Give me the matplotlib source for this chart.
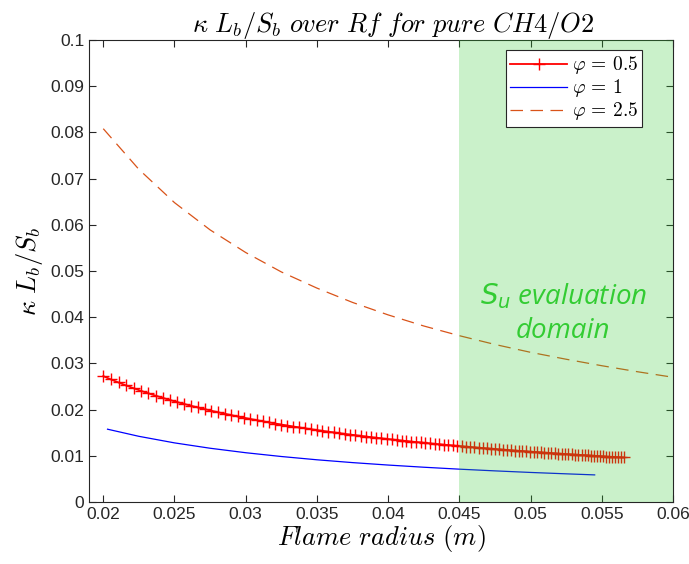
import matplotlib
matplotlib.use("Agg")
import matplotlib.pyplot as plt

plt.rcParams['mathtext.fontset'] = 'cm'
plt.rcParams['font.family'] = ['Liberation Sans', 'DejaVu Sans']

# phi = 0.5 (markers)
r_05 = [0.02000, 0.02054, 0.02107, 0.02160, 0.02213, 0.02265, 0.02316, 0.02367, 0.02418, 0.02468,
        0.02518, 0.02567, 0.02616, 0.02664, 0.02712, 0.02759, 0.02806, 0.02852, 0.02898, 0.02944,
        0.02989, 0.03033, 0.03078, 0.03122, 0.03165, 0.03208, 0.03251, 0.03293, 0.03335, 0.03376,
        0.03417, 0.03458, 0.03498, 0.03538, 0.03578, 0.03617, 0.03656, 0.03694, 0.03732, 0.03770,
        0.03807, 0.03844, 0.03881, 0.03917, 0.03953, 0.03989, 0.04024, 0.04059, 0.04094, 0.04128,
        0.04162, 0.04196, 0.04229, 0.04262, 0.04295, 0.04328, 0.04360, 0.04391, 0.04423, 0.04454,
        0.04485, 0.04516, 0.04546, 0.04576, 0.04606, 0.04635, 0.04665, 0.04694, 0.04722, 0.04751,
        0.04779, 0.04807, 0.04834, 0.04862, 0.04889, 0.04916, 0.04942, 0.04969, 0.04995, 0.05021,
        0.05046, 0.05072, 0.05097, 0.05122, 0.05146, 0.05171, 0.05195, 0.05219, 0.05243, 0.05266,
        0.05289, 0.05313, 0.05335, 0.05358, 0.05381, 0.05403, 0.05425, 0.05447, 0.05468, 0.05490,
        0.05511, 0.05532, 0.05553, 0.05573, 0.05594, 0.05614, 0.05634, 0.05654]
k_05 = [0.02725, 0.02653, 0.02587, 0.02523, 0.02463, 0.02406, 0.02353, 0.02303, 0.02254, 0.02208,
        0.02164, 0.02123, 0.02083, 0.02046, 0.02010, 0.01975, 0.01942, 0.01911, 0.01881, 0.01851,
        0.01823, 0.01797, 0.01771, 0.01746, 0.01722, 0.01699, 0.01676, 0.01655, 0.01634, 0.01614,
        0.01595, 0.01576, 0.01558, 0.01540, 0.01523, 0.01507, 0.01491, 0.01475, 0.01460, 0.01446,
        0.01432, 0.01418, 0.01404, 0.01391, 0.01379, 0.01366, 0.01354, 0.01343, 0.01331, 0.01320,
        0.01309, 0.01299, 0.01289, 0.01279, 0.01269, 0.01259, 0.01250, 0.01241, 0.01232, 0.01224,
        0.01215, 0.01207, 0.01199, 0.01191, 0.01183, 0.01176, 0.01168, 0.01161, 0.01154, 0.01147,
        0.01140, 0.01134, 0.01127, 0.01121, 0.01115, 0.01109, 0.01103, 0.01097, 0.01091, 0.01085,
        0.01080, 0.01075, 0.01069, 0.01064, 0.01059, 0.01054, 0.01049, 0.01044, 0.01039, 0.01035,
        0.01030, 0.01026, 0.01022, 0.01017, 0.01013, 0.01009, 0.01005, 0.01001, 0.00997, 0.00993,
        0.00989, 0.00985, 0.00981, 0.00978, 0.00974, 0.00971, 0.00967, 0.00964]

# phi = 1
r_1 = [0.0203, 0.0225, 0.025, 0.0275, 0.03, 0.0325, 0.035, 0.0375, 0.04, 0.0425,
       0.045, 0.0475, 0.05, 0.0525, 0.0545]
k_1 = [0.01576, 0.01422, 0.0128, 0.01164, 0.01067, 0.00985, 0.00914, 0.00853, 0.0080, 0.00753,
       0.00711, 0.00674, 0.0064, 0.0061, 0.00587]

# phi = 2.5
r_25 = [0.02, 0.0225, 0.025, 0.0275, 0.03, 0.0325, 0.035, 0.0375, 0.04, 0.0425,
        0.045, 0.0475, 0.05, 0.0525, 0.055, 0.0575, 0.06]
k_25 = [0.0808, 0.0720, 0.0648, 0.0589, 0.0540, 0.0498, 0.0463, 0.0432, 0.0405, 0.0381,
        0.0360, 0.0341, 0.0324, 0.0309, 0.0295, 0.0282, 0.0270]

labels = [r'$\varphi\,=\,0.5$', r'$\varphi\,=\,1$', r'$\varphi\,=\,2.5$']
domain = [0.045, 0.06]
xticks = [0.02, 0.025, 0.03, 0.035, 0.04, 0.045, 0.05, 0.055, 0.06]
yticks = [0, 0.01, 0.02, 0.03, 0.04, 0.05, 0.06, 0.07, 0.08, 0.09, 0.1]

fig = plt.figure(figsize=(6.89, 5.64), dpi=100)
ax = fig.add_axes([0.1292, 0.1099, 0.8476, 0.8192])

ax.plot(r_05, k_05, color='red', lw=1.3, marker='+', ms=8, mew=1.0, label=labels[0], zorder=3)
ax.plot(r_1, k_1, color='blue', lw=0.9, label=labels[1], zorder=3)
ax.plot(r_25, k_25, color='#D95319', lw=0.9, ls=(0, (10, 6)), label=labels[2], zorder=3)

ax.axvspan(domain[0], domain[1], facecolor='#33cc33', alpha=0.26, lw=0, zorder=4)

ax.text(0.0523, 0.0409, '$S_u$ evaluation\ndomain', color='#33cc33', fontsize=20,
        family=['Open Sans', 'DejaVu Sans'], style='italic', ha='center', va='center',
        linespacing=1.25, zorder=5, math_fontfamily='dejavusans')

ax.set_xlim(0.019, 0.06)
ax.set_ylim(0, 0.1)
ax.set_xticks(xticks)
ax.set_yticks(yticks)
ax.set_xticklabels(['0.02', '0.025', '0.03', '0.035', '0.04', '0.045', '0.05', '0.055', '0.06'])
ax.set_yticklabels(['0', '0.01', '0.02', '0.03', '0.04', '0.05', '0.06', '0.07', '0.08', '0.09', '0.1'])
ax.tick_params(direction='in', top=True, right=True, length=5, width=0.8,
               colors='#262626', labelsize=12.5, labelcolor='#262626')
for s in ax.spines.values():
    s.set_color('#262626')
    s.set_linewidth(0.8)

ax.set_title(r'$\kappa\ L_b/S_b\ over\ Rf\ for\ pure\ CH4/O2$', fontsize=19, pad=6, x=0.52)
ax.set_xlabel(r'$Flame\ radius\ (m)$', fontsize=19, labelpad=1)
ax.set_ylabel(r'$\kappa\ L_b/S_b$', fontsize=19, labelpad=4)

leg = ax.legend(loc='upper right', bbox_to_anchor=(0.947, 0.978), borderaxespad=0,
                fontsize=14, frameon=True, fancybox=False,
                framealpha=1, edgecolor='#262626', numpoints=1, handlelength=2.9,
                labelspacing=0.05, handletextpad=0.25, borderpad=0.22)
leg.get_frame().set_linewidth(0.8)
leg.set_zorder(10)

fig.savefig('out.png', dpi=100)
